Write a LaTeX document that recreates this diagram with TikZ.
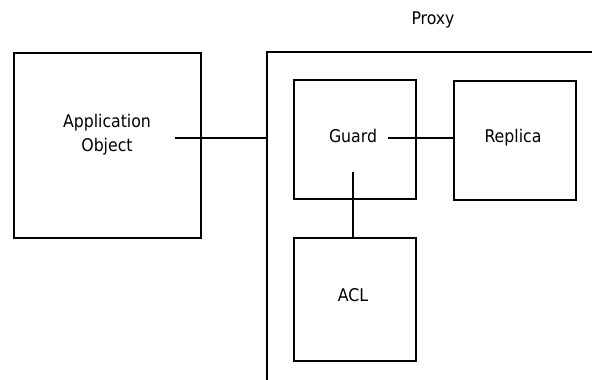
\documentclass[tikz,border=0pt]{standalone}
\usepackage{fontspec}
\setmainfont{DejaVu Sans Condensed}
\begin{document}
\begin{tikzpicture}[x=1pt,y=-1pt,
  box/.style={draw,line width=2.4pt,inner sep=0pt},
  lbl/.style={font=\fontsize{17.5}{24}\selectfont,align=center},
  one/.style={lbl,text height=12pt,text depth=3pt},
  conn/.style={line width=2.2pt}]
\useasboundingbox (0,0) rectangle (592,380);
% Application object
\node[box,minimum width=187pt,minimum height=185pt,anchor=north west] (app) at (13,52) {};
\node[lbl] (apptext) at (107,135) {Application\\Object};
\coordinate (append) at (175,138);
% Proxy frame
\coordinate (pr) at (592,52);
\coordinate (ptl) at (267,52);
\coordinate (pbl) at (267,380);
\draw[line width=2.4pt] (pr) -- (ptl) -- (pbl);
\node[one] (proxy) at (433,20) {Proxy};
\coordinate (pin) at (267,138);
% inner boxes
\node[box,minimum width=122pt,minimum height=119pt,anchor=north west] (guard) at (293,79) {};
\node[one] (guardtext) at (353,138) {Guard};
\node[box,minimum width=122pt,minimum height=119pt,anchor=north west] (replica) at (453,80) {};
\node[one] (replicatext) at (513,138) {Replica};
\node[box,minimum width=122pt,minimum height=123pt,anchor=north west] (acl) at (293,237) {};
\node[one] (acltext) at (353,297) {ACL};
\coordinate (gright) at (388,138);
\coordinate (gdown) at (353,172);
\draw[conn] (append) -- (pin);
\draw[conn] (gright) -- (replica.west |- gright);
\draw[conn] (gdown) -- (acl.north -| gdown);
\end{tikzpicture}
\end{document}
